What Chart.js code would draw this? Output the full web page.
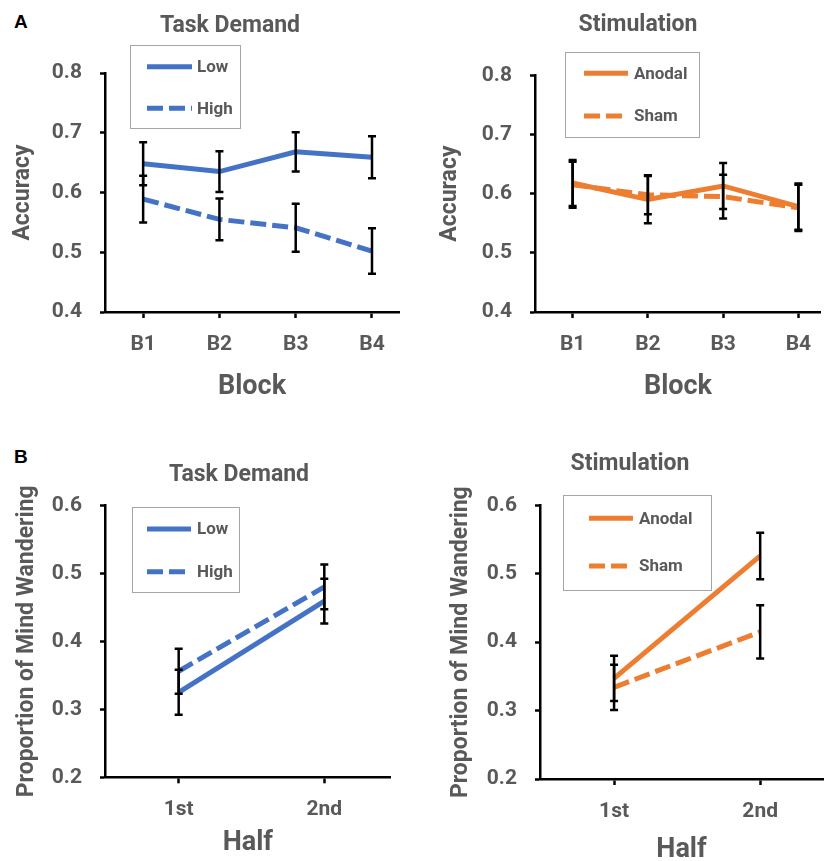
<!DOCTYPE html>
<html>
<head>
<meta charset="utf-8">
<script src="https://cdn.jsdelivr.net/npm/chart.js@4.4.1/dist/chart.umd.min.js"></script>
<style>
  body { margin: 0; background: #fff; width: 825px; height: 861px; position: relative; overflow: hidden; }
  .panel { position: absolute; }
  .tag { position: absolute; font: bold 19px "Liberation Sans", Arial, sans-serif; color: #000; }
</style>
</head>
<body>
<div class="tag" style="left:14px;top:11px">A</div>
<div class="tag" style="left:14px;top:446px">B</div>
<canvas class="panel" id="accDemand" width="412" height="415" style="left:0;top:0"></canvas>
<canvas class="panel" id="accStim" width="413" height="415" style="left:412px;top:0"></canvas>
<canvas class="panel" id="mwDemand" width="412" height="431" style="left:0;top:430px"></canvas>
<canvas class="panel" id="mwStim" width="413" height="431" style="left:412px;top:430px"></canvas>
<script>
// categories
const blocks = ['B1', 'B2', 'B3', 'B4'];
const halves = ['1st', '2nd'];
const accTicks = [0.4, 0.5, 0.6, 0.7, 0.8];
const mwTicks = [0.2, 0.3, 0.4, 0.5, 0.6];

// accuracy, task demand
const accLow = [0.648, 0.635, 0.668, 0.659];
const accLowErr = [0.036, 0.034, 0.033, 0.035];
const accHigh = [0.589, 0.555, 0.541, 0.502];
const accHighErr = [0.039, 0.035, 0.040, 0.038];

// accuracy, stimulation
const accAnodal = [0.618, 0.590, 0.613, 0.578];
const accAnodalErr = [0.039, 0.040, 0.039, 0.039];
const accSham = [0.615, 0.598, 0.595, 0.576];
const accShamErr = [0.039, 0.033, 0.037, 0.039];

// mind wandering, task demand
const mwLow = [0.325, 0.459];
const mwLowErr = [0.033, 0.033];
const mwHigh = [0.356, 0.480];
const mwHighErr = [0.033, 0.033];

// mind wandering, stimulation
const mwAnodal = [0.347, 0.526];
const mwAnodalErr = [0.033, 0.034];
const mwSham = [0.334, 0.415];
const mwShamErr = [0.033, 0.039];

const BLUE = '#4472C4';
const ORANGE = '#ED7D31';
const GREY = '#595959';

// the original uses a condensed bold face; use the narrow one if it is there
function hasFont(name) {
  const c = document.createElement('canvas').getContext('2d');
  const s = 'Task Demand Wandering 0.5';
  c.font = 'bold 20px monospace';
  const a = c.measureText(s).width;
  c.font = 'bold 20px "' + name + '", monospace';
  return c.measureText(s).width !== a;
}
const narrow = hasFont('Liberation Sans Narrow');
const FAMILY = narrow ? '"Liberation Sans Narrow", Roboto, sans-serif' : 'Roboto, sans-serif';
const SZ = narrow
  ? { title: 26, tick: 23, xTitle: 29, yTitle: 26, legend: 20 }
  : { title: 23, tick: 21, xTitle: 27, yTitle: 23, legend: 17 };

Chart.defaults.font.family = FAMILY;
Chart.defaults.color = GREY;

const extras = {
  id: 'extras',
  afterDatasetsDraw(chart) {
    const ctx = chart.ctx;
    const xs = chart.scales.x, ys = chart.scales.y;
    ctx.save();
    ctx.strokeStyle = '#000';
    ctx.lineWidth = 2.5;
    chart.data.datasets.forEach(ds => {
      ds.data.forEach((p, i) => {
        const e = ds.errors[i];
        const x = xs.getPixelForValue(p.x);
        const y1 = ys.getPixelForValue(p.y + e);
        const y2 = ys.getPixelForValue(p.y - e);
        ctx.beginPath();
        ctx.moveTo(x, y1); ctx.lineTo(x, y2);
        ctx.moveTo(x - 4, y1); ctx.lineTo(x + 4, y1);
        ctx.moveTo(x - 4, y2); ctx.lineTo(x + 4, y2);
        ctx.stroke();
      });
    });
    ctx.restore();
  },
  afterDraw(chart, args, opts) {
    const ctx = chart.ctx;
    ctx.save();
    ctx.fillStyle = GREY;
    ctx.textAlign = 'center';
    ctx.textBaseline = 'middle';
    ctx.font = 'bold ' + SZ.title + 'px ' + FAMILY;
    ctx.fillText(opts.title, opts.tx, opts.ty);

    const L = opts.legend;
    ctx.strokeStyle = '#a6a6a6';
    ctx.lineWidth = 1;
    ctx.strokeRect(L.x + 0.5, L.y + 0.5, L.w, L.h);
    ctx.font = 'bold ' + SZ.legend + 'px ' + FAMILY;
    ctx.textAlign = 'left';
    chart.data.datasets.forEach((ds, i) => {
      const y = L.rows[i];
      ctx.strokeStyle = ds.borderColor;
      ctx.lineWidth = 5;
      ctx.setLineDash(ds.borderDash || []);
      ctx.beginPath();
      ctx.moveTo(L.lx, y); ctx.lineTo(L.lx + L.len, y);
      ctx.stroke();
      ctx.setLineDash([]);
      ctx.fillText(ds.label, L.tx, y + 1);
    });
    ctx.restore();
  }
};
Chart.register(extras);

function series(label, vals, errs, color, dashed) {
  return {
    label: label,
    data: vals.map((v, i) => ({ x: i + 1, y: v })),
    errors: errs,
    borderColor: color,
    backgroundColor: color,
    borderWidth: 5,
    borderDash: dashed ? [16, 6] : [],
    pointRadius: 0,
    tension: 0
  };
}

function makePanel(id, cfg) {
  const canvas = document.getElementById(id);
  const xAxisY = canvas.height - cfg.xHeight;
  new Chart(canvas, {
    type: 'line',
    data: { datasets: cfg.datasets },
    options: {
      responsive: false,
      animation: false,
      layout: { padding: { top: cfg.top, right: cfg.padRight, left: 0, bottom: 0 } },
      plugins: {
        legend: { display: false },
        tooltip: { enabled: false },
        extras: { title: cfg.title, tx: cfg.tx, ty: cfg.ty, legend: cfg.legend }
      },
      scales: {
        x: {
          type: 'linear',
          min: cfg.xmin,
          max: cfg.xmax,
          afterBuildTicks: s => { s.ticks = cfg.cats.map((c, i) => ({ value: i + 1 })); },
          afterFit: s => { s.height = cfg.xHeight; },
          ticks: {
            callback: v => cfg.cats[v - 1],
            font: { size: SZ.tick, weight: 'bold' },
            color: GREY,
            padding: 32.5 - 6 - 0.6 * SZ.tick,
            maxRotation: 0
          },
          grid: { drawOnChartArea: false, drawTicks: true, tickLength: 6, tickColor: '#000', tickWidth: 2.5 },
          border: { display: true, color: '#000', width: 2.5 },
          title: {
            display: true, text: cfg.xTitle, color: GREY,
            font: { size: SZ.xTitle, weight: 'bold' },
            padding: { top: 0, bottom: canvas.height - cfg.xTitleY - 0.6 * SZ.xTitle }
          }
        },
        y: {
          min: cfg.yTicks[0],
          max: cfg.yTicks[cfg.yTicks.length - 1],
          afterBuildTicks: s => { s.ticks = cfg.yTicks.map(v => ({ value: v })); },
          afterFit: s => { s.width = cfg.yWidth; },
          ticks: {
            callback: v => v.toFixed(1),
            font: { size: SZ.tick, weight: 'bold' },
            color: GREY,
            padding: 18
          },
          grid: { drawOnChartArea: false, drawTicks: true, tickLength: 5, tickColor: '#000', tickWidth: 2.5 },
          border: { display: true, color: '#000', width: 2.5 },
          title: {
            display: true, text: cfg.yTitle, color: GREY,
            font: { size: SZ.yTitle, weight: 'bold' },
            padding: { top: cfg.yTitleX - 0.6 * SZ.yTitle, bottom: 0 }
          }
        }
      }
    }
  });
}

makePanel('accDemand', {
  datasets: [
    series('Low', accLow, accLowErr, BLUE, false),
    series('High', accHigh, accHighErr, BLUE, true)
  ],
  cats: blocks, yTicks: accTicks,
  title: 'Task Demand', tx: 230, ty: 26,
  xTitle: 'Block', yTitle: 'Accuracy',
  top: 73, padRight: 13, yWidth: 105, xHeight: 103,
  xmin: 0.5, xmax: 4.354, yTitleX: 23, xTitleY: 387.5,
  legend: { x: 130, y: 45, w: 110, h: 83, lx: 147, len: 45, tx: 197, rows: [66.7, 108.3] }
});

makePanel('accStim', {
  datasets: [
    series('Anodal', accAnodal, accAnodalErr, ORANGE, false),
    series('Sham', accSham, accShamErr, ORANGE, true)
  ],
  cats: blocks, yTicks: accTicks,
  title: 'Stimulation', tx: 226, ty: 25,
  xTitle: 'Block', yTitle: 'Accuracy',
  top: 75.3, padRight: 0, yWidth: 123, xHeight: 103,
  xmin: 0.5, xmax: 4.30, yTitleX: 38, xTitleY: 387,
  legend: { x: 153, y: 52, w: 134, h: 85, lx: 172, len: 44, tx: 222, rows: [73.3, 116] }
});

makePanel('mwDemand', {
  datasets: [
    series('Low', mwLow, mwLowErr, BLUE, false),
    series('High', mwHigh, mwHighErr, BLUE, true)
  ],
  cats: halves, yTicks: mwTicks,
  title: 'Task Demand', tx: 239, ty: 45,
  xTitle: 'Half', yTitle: 'Proportion of Mind Wandering',
  top: 75.3, padRight: 21.3, yWidth: 105, xHeight: 83.7,
  xmin: 0.494, xmax: 2.456, yTitleX: 27, xTitleY: 413,
  legend: { x: 132, y: 77, w: 107, h: 85, lx: 147, len: 44, tx: 197, rows: [99, 141.7] }
});

makePanel('mwStim', {
  datasets: [
    series('Anodal', mwAnodal, mwAnodalErr, ORANGE, false),
    series('Sham', mwSham, mwShamErr, ORANGE, true)
  ],
  cats: halves, yTicks: mwTicks,
  title: 'Stimulation', tx: 218, ty: 34,
  xTitle: 'Half', yTitle: 'Proportion of Mind Wandering',
  top: 75.3, padRight: 2, yWidth: 128, xHeight: 82,
  xmin: 0.493, xmax: 2.43, yTitleX: 49.7, xTitleY: 420,
  legend: { x: 151, y: 65, w: 148, h: 95, lx: 177, len: 44, tx: 227, rows: [88.3, 136] }
});
</script>
</body>
</html>
